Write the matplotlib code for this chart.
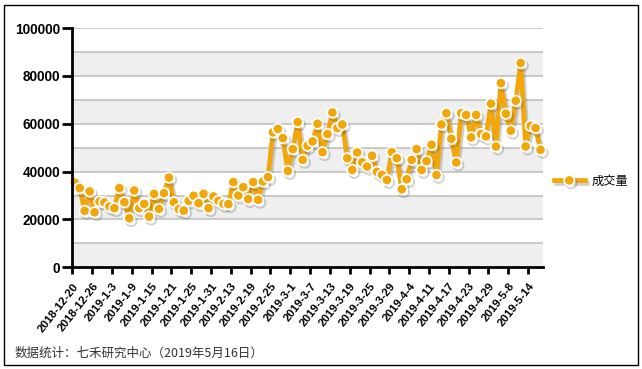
import matplotlib
matplotlib.use("Agg")
import matplotlib.pyplot as plt
import matplotlib.patheffects as pe
from matplotlib.patches import Rectangle

plt.rcParams['font.family'] = ['Liberation Sans', 'Noto Sans CJK SC', 'DejaVu Sans']

# 成交量 per trading day, 2018-12-20 .. 2019-05-16
volume = [35400, 33100, 23600, 31700, 23000, 27500, 27100, 25400, 24700, 33100,
          27200, 20500, 32100, 24700, 26500, 21200, 30700, 24400, 31000, 37500,
          27200, 24300, 23700, 27800, 29900, 26800, 30700, 24700, 29600, 27800,
          26500, 26400, 35600, 30000, 33500, 28500, 35600, 28200, 35900, 37700,
          56400, 57800, 54000, 40300, 49400, 60700, 44900, 50800, 52600, 60000,
          48100, 55700, 64700, 58200, 59700, 45600, 40700, 48000, 43900, 42100,
          46600, 39900, 38600, 36500, 48100, 45600, 32600, 36800, 44900, 49400,
          40700, 44400, 51200, 38600, 59700, 64400, 53700, 43800, 64400, 63700,
          54300, 63700, 55700, 54700, 68400, 50500, 77000, 64200, 57100, 69600,
          85400, 50500, 59100, 58200, 49100]

tick_labels = ['2018-12-20', '2018-12-26', '2019-1-3', '2019-1-9', '2019-1-15',
               '2019-1-21', '2019-1-25', '2019-1-31', '2019-2-13', '2019-2-19',
               '2019-2-25', '2019-3-1', '2019-3-7', '2019-3-13', '2019-3-19',
               '2019-3-25', '2019-3-29', '2019-4-4', '2019-4-11', '2019-4-17',
               '2019-4-23', '2019-4-29', '2019-5-8', '2019-5-14']
tick_step = 4

series_name = '成交量'
source_note = '数据统计：七禾研究中心（2019年5月16日）'

orange = '#F2A60A'

fig = plt.figure(figsize=(6.42, 3.69), dpi=100)
ax = fig.add_axes([0.1126, 0.2756, 0.7332, 0.6484])

x = list(range(len(volume)))

# alternating bands + grid
for lo in range(0, 100000, 20000):
    ax.axhspan(lo, lo + 10000, color='#EFEFEF', zorder=0, lw=0)
for g in range(10000, 100001, 10000):
    ax.axhline(g, color='#BDBDBD', lw=1.1, zorder=1)

shadow = [pe.SimpleLineShadow(offset=(1.5, -2), shadow_color='#444444', alpha=0.25),
          pe.Normal()]
line, = ax.plot(x, volume, color=orange, lw=3.4, marker='o', markersize=7.5,
                markerfacecolor=orange, markeredgecolor='white',
                markeredgewidth=1.3, zorder=3, path_effects=shadow,
                label=series_name, clip_on=False)

ax.set_xlim(-0.5, len(volume) - 0.5)
ax.set_ylim(0, 100000)
ax.set_xticks([i * tick_step - 0.5 for i in range(len(tick_labels))])
ax.set_xticklabels(tick_labels, rotation=52, ha='right', rotation_mode='anchor',
                   fontsize=8.2, fontweight='bold')
ax.set_yticks(range(0, 100001, 20000))
ax.set_yticklabels([str(v) for v in range(0, 100001, 20000)],
                   fontsize=9.8, fontweight='bold')
ax.tick_params(axis='x', direction='out', length=5, width=2, pad=5)
ax.tick_params(axis='y', direction='out', length=7, width=2, pad=1.5)

for s in ['top', 'right']:
    ax.spines[s].set_visible(False)
for s in ['left', 'bottom']:
    ax.spines[s].set_linewidth(2)
    ax.spines[s].set_zorder(4)

leg = ax.legend(handles=[line], loc='center left', bbox_to_anchor=(1.0, 0.36),
                frameon=False, handlelength=2.5, handletextpad=0.6,
                prop={'family': ['Noto Sans CJK SC'], 'size': 8.8})

fig.text(0.022, 0.042, source_note, fontsize=9, color='#333333',
         family=['Noto Sans CJK SC'], va='center')

fig.patches.append(Rectangle((0.0065, 0.0095), 0.987, 0.976, transform=fig.transFigure,
                             fill=False, edgecolor='black', lw=1))

fig.savefig('out.png', dpi=100)
